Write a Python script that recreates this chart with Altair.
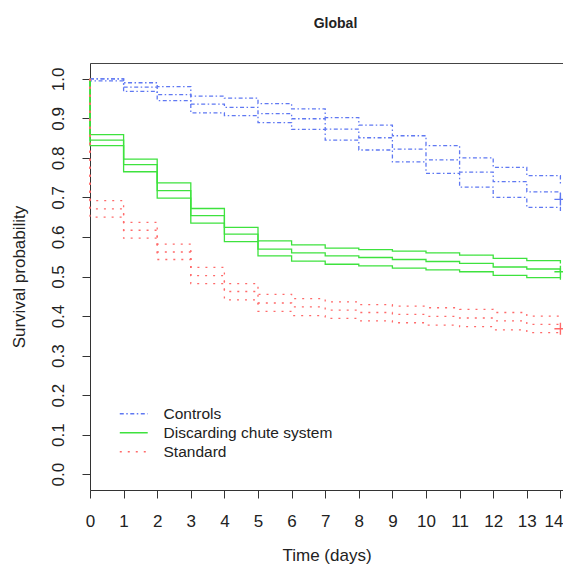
import altair as alt
import pandas as pd

# ---- data ----
days = list(range(15))
groups = ["Controls", "Discarding chute system", "Standard"]

controls_upper = [1.000, 0.990, 0.980, 0.956, 0.951, 0.937, 0.924, 0.902, 0.883, 0.856, 0.831, 0.800, 0.776, 0.755, 0.735]
controls_est   = [1.000, 0.979, 0.960, 0.936, 0.928, 0.912, 0.899, 0.873, 0.851, 0.822, 0.795, 0.764, 0.740, 0.714, 0.695]
controls_lower = [0.995, 0.968, 0.945, 0.914, 0.907, 0.889, 0.872, 0.845, 0.820, 0.790, 0.761, 0.726, 0.700, 0.675, 0.660]

chute_upper = [0.859, 0.797, 0.737, 0.672, 0.624, 0.590, 0.580, 0.572, 0.568, 0.564, 0.560, 0.554, 0.546, 0.540, 0.533]
chute_est   = [0.845, 0.783, 0.717, 0.654, 0.607, 0.569, 0.560, 0.552, 0.548, 0.543, 0.538, 0.533, 0.524, 0.519, 0.512]
chute_lower = [0.831, 0.765, 0.698, 0.635, 0.588, 0.552, 0.539, 0.531, 0.527, 0.521, 0.517, 0.512, 0.503, 0.497, 0.492]

standard_upper = [0.692, 0.637, 0.582, 0.523, 0.482, 0.455, 0.444, 0.436, 0.429, 0.425, 0.421, 0.417, 0.409, 0.400, 0.390]
standard_est   = [0.671, 0.617, 0.562, 0.502, 0.462, 0.433, 0.423, 0.415, 0.409, 0.404, 0.399, 0.395, 0.388, 0.379, 0.368]
standard_lower = [0.650, 0.597, 0.543, 0.482, 0.441, 0.412, 0.401, 0.394, 0.388, 0.383, 0.377, 0.373, 0.365, 0.358, 0.348]

colors = ["#5f78f2", "#3ee23e", "#ff6a6a"]
dashes = [[4, 2.5, 1.5, 2.5], [10, 0], [2, 6]]

series = {
    "Controls": {"upper": controls_upper, "est": controls_est, "lower": controls_lower},
    "Discarding chute system": {"upper": chute_upper, "est": chute_est, "lower": chute_lower},
    "Standard": {"upper": standard_upper, "est": standard_est, "lower": standard_lower},
}

rows = []
for g, bands in series.items():
    for band, vals in bands.items():
        rows.append({"group": g, "band": band, "t": 0, "v": 1.0, "i": 0})
        for k, (d, v) in enumerate(zip(days, vals)):
            rows.append({"group": g, "band": band, "t": d, "v": v, "i": k + 1})
df = pd.DataFrame(rows)

cens = pd.DataFrame({
    "group": groups,
    "t": [days[-1]] * 3,
    "v": [controls_est[-1], chute_est[-1], standard_est[-1]],
})

FONT = "Liberation Sans"
PLOT_W = 473
xscale = alt.Scale(domain=[0, PLOT_W / 33.6], nice=False, zero=False)
yscale = alt.Scale(domain=[-0.04, 1.04], nice=False, zero=False)
cscale = alt.Scale(domain=groups, range=colors)
dscale = alt.Scale(domain=groups, range=dashes)

legend = alt.Legend(
    title=None, orient="none", legendX=36, legendY=343,
    symbolType="M-2.5,0H2.5", symbolSize=125, symbolStrokeWidth=1.4,
    labelFont=FONT, labelFontSize=15.5, labelColor="#222", labelOffset=22,
    labelLimit=0, rowPadding=2, padding=0,
)

xaxis = alt.Axis(
    values=days, format="d", title="Time (days)", grid=False,
    domainColor="#333", tickColor="#333", tickSize=8, labelPadding=15,
    labelFont=FONT, labelFontSize=17, labelColor="#222",
    labelOffset={"condition": {"test": "datum.value === 14", "value": -7}, "value": 0},
    titleFont=FONT, titleFontSize=17, titleFontWeight="normal", titleColor="#222",
    titleY=57, titleBaseline="top", labelFlush=False,
)
yaxis = alt.Axis(
    values=[round(0.1 * k, 1) for k in range(11)], format=".1f",
    title="Survival probability", grid=False,
    domainColor="#333", tickColor="#333", tickSize=8, labelPadding=19,
    labelAngle=-90, labelAlign="center", labelBaseline="alphabetic",
    labelFont=FONT, labelFontSize=17, labelColor="#222",
    titleFont=FONT, titleFontSize=17, titleFontWeight="normal", titleColor="#222",
    titleX=-71, titleBaseline="middle", labelFlush=False,
)

lines = alt.Chart(df).mark_line(interpolate="step-after", strokeWidth=1.3).encode(
    x=alt.X("t:Q", scale=xscale, axis=xaxis),
    y=alt.Y("v:Q", scale=yscale, axis=yaxis),
    color=alt.Color("group:N", scale=cscale, legend=legend),
    strokeDash=alt.StrokeDash("group:N", scale=dscale, legend=legend),
    detail="band:N",
    order=alt.Order("i:Q"),
)

marks = alt.Chart(cens).mark_point(
    shape="M-1,0L1,0M0,-1L0,1", size=144, strokeWidth=1.4, filled=False, opacity=1
).encode(
    x=alt.X("t:Q", scale=xscale, axis=alt.Axis(orient="top", labels=False, ticks=False,
                                              title=None, grid=False, domainColor="#444")),
    y=alt.Y("v:Q", scale=yscale),
    color=alt.Color("group:N", scale=cscale, legend=None),
)

chart = alt.layer(lines, marks).resolve_axis(x="independent").properties(
    width=PLOT_W, height=427,
    title=alt.TitleParams("Global", font=FONT, fontSize=14, fontWeight="bold",
                          color="#222", anchor="middle", dx=9, offset=21,
                          baseline="alphabetic"),
    autosize=alt.AutoSizeParams(type="none"),
    padding={"left": 82, "top": 55, "right": 0, "bottom": 74},
).configure_view(stroke=None).configure(background="white")

chart.save("out.html", embed_options={"renderer": "svg", "actions": False})
